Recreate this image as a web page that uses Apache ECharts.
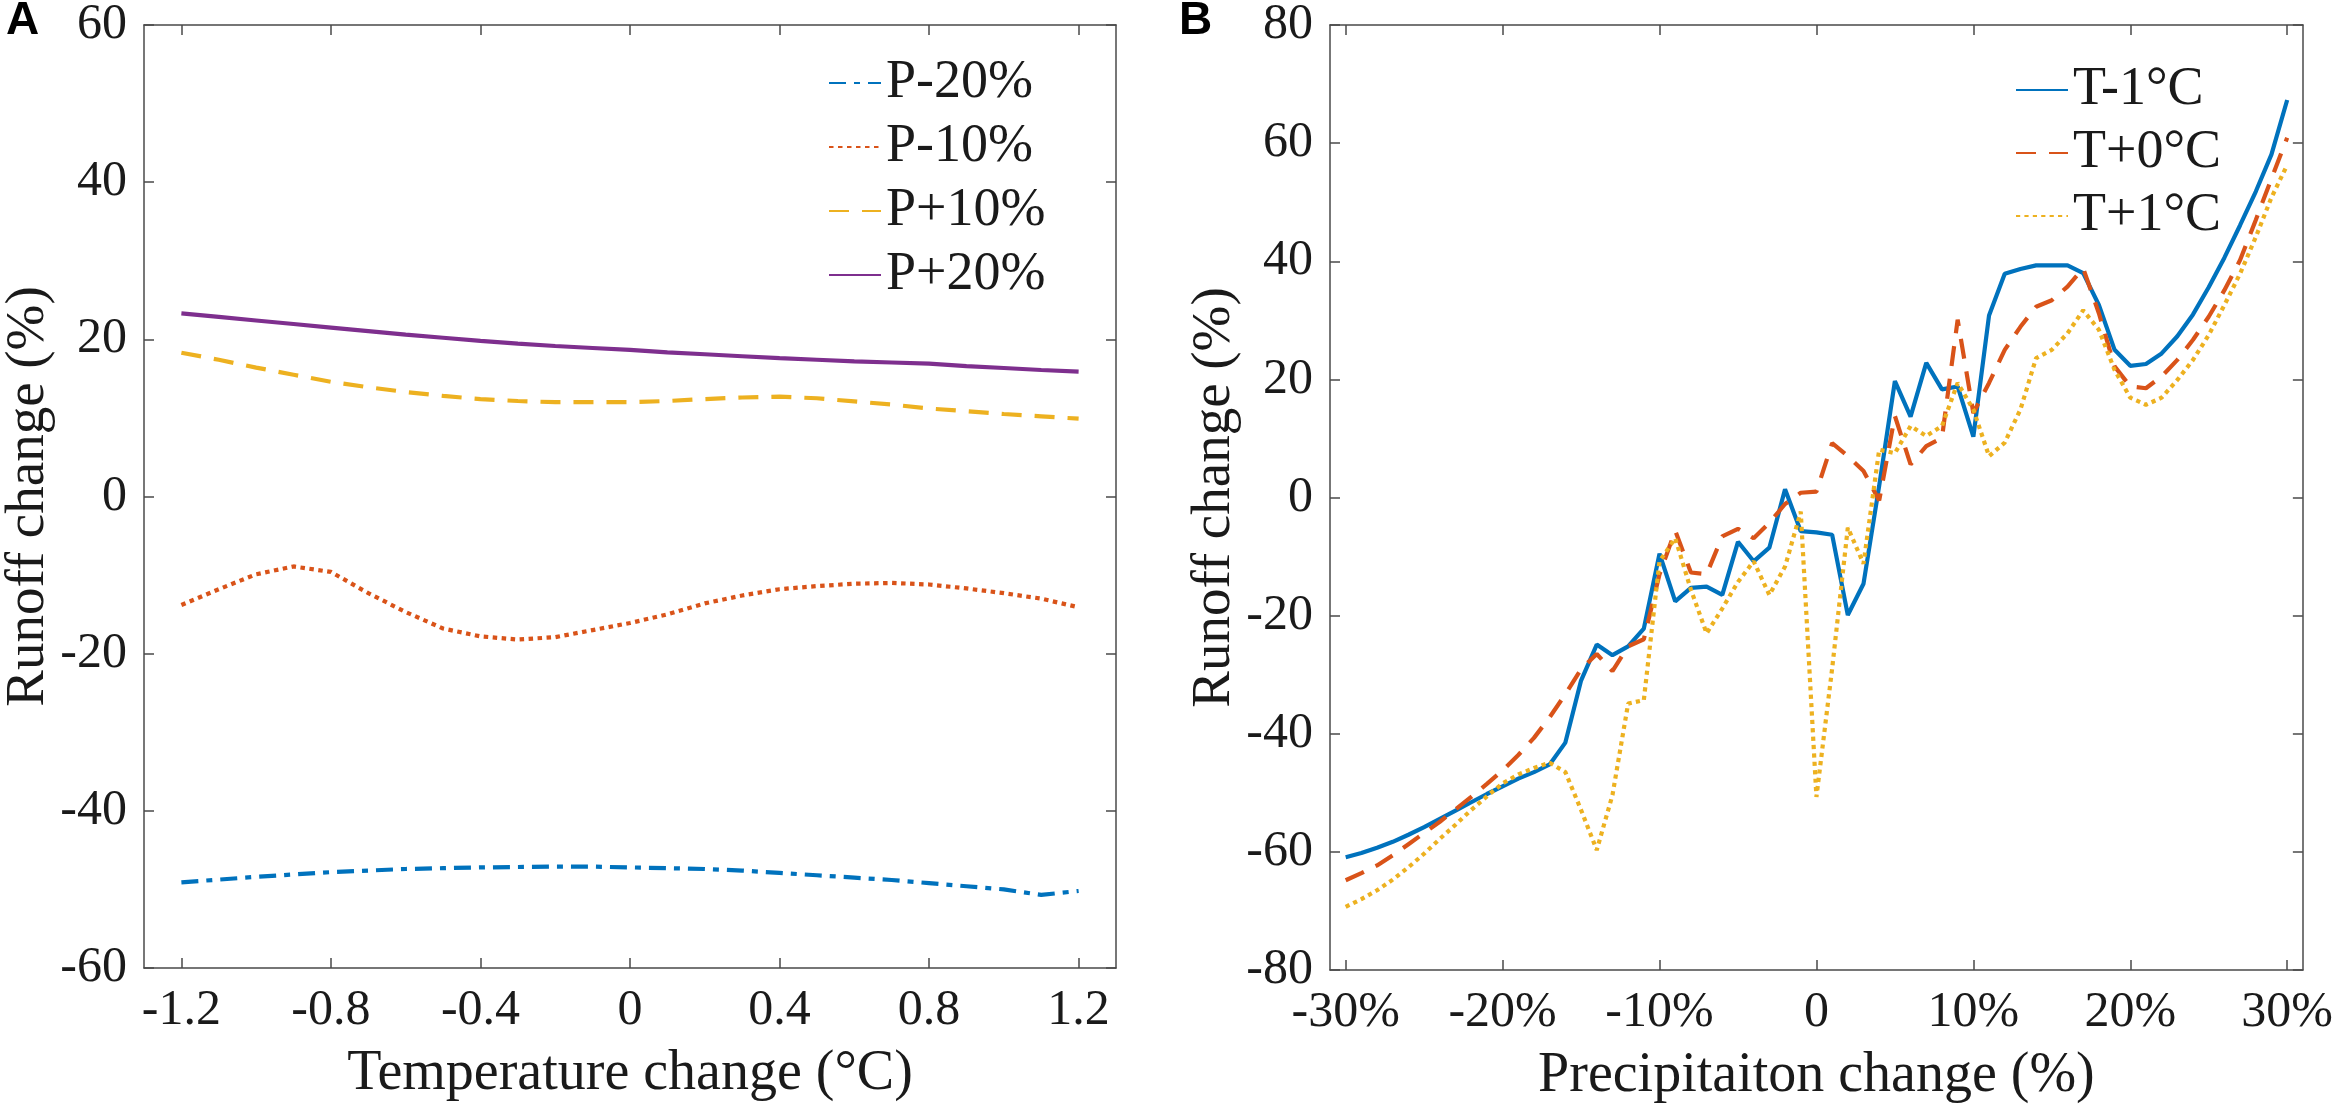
<!DOCTYPE html>
<html><head><meta charset="utf-8">
<script src="https://cdn.jsdelivr.net/npm/echarts@6/dist/echarts.min.js"></script>
<style>html,body{margin:0;padding:0;background:#fff}#c{width:2336px;height:1111px}</style>
</head><body><div id="c"></div>
<script>
// ---------- Panel A data ----------
const tempX = [-1.2,-1.1,-1.0,-0.9,-0.8,-0.7,-0.6,-0.5,-0.4,-0.3,-0.2,-0.1,0,0.1,0.2,0.3,0.4,0.5,0.6,0.7,0.8,0.9,1.0,1.1,1.2];
const pMinus20 = [-49.1,-48.75,-48.4,-48.1,-47.8,-47.6,-47.4,-47.3,-47.2,-47.15,-47.1,-47.1,-47.2,-47.3,-47.4,-47.6,-47.9,-48.2,-48.5,-48.8,-49.2,-49.6,-50.0,-50.7,-50.2];
const pMinus10 = [-13.8,-11.8,-9.9,-8.9,-9.6,-12.3,-14.7,-16.8,-17.8,-18.2,-17.9,-17.0,-16.1,-15.0,-13.6,-12.6,-11.8,-11.4,-11.1,-11.0,-11.2,-11.7,-12.3,-13.0,-14.1];
const pPlus10 = [18.3,17.4,16.4,15.5,14.6,13.9,13.3,12.8,12.4,12.15,12.0,12.0,12.0,12.15,12.4,12.6,12.7,12.5,12.1,11.7,11.2,10.85,10.5,10.2,9.9];
const pPlus20 = [23.3,22.85,22.4,21.95,21.5,21.05,20.6,20.2,19.8,19.45,19.15,18.9,18.65,18.35,18.1,17.85,17.6,17.4,17.2,17.05,16.9,16.6,16.35,16.1,15.9];
const seriesNamesA = ['P-20%','P-10%','P+10%','P+20%'];
const tempTicks = [-1.2,-0.8,-0.4,0,0.4,0.8,1.2];
const tempTickLabels = ['-1.2','-0.8','-0.4','0','0.4','0.8','1.2'];

// ---------- Panel B data ----------
const precipX = [-30,-29,-28,-27,-26,-25,-24,-23,-22,-21,-20,-19,-18,-17,-16,-15,-14,-13,-12,-11,-10,-9,-8,-7,-6,-5,-4,-3,-2,-1,0,1,2,3,4,5,6,7,8,9,10,11,12,13,14,15,16,17,18,19,20,21,22,23,24,25,26,27,28,29,30];
const tMinus1 = [-60.9,-60.2,-59.3,-58.3,-57.1,-55.8,-54.4,-53.0,-51.6,-50.2,-48.9,-47.6,-46.5,-45.2,-41.5,-31.0,-24.9,-26.7,-25.2,-22.2,-9.5,-17.6,-15.3,-15.1,-16.5,-7.5,-10.8,-8.5,1.4,-5.7,-5.9,-6.3,-19.9,-14.6,2.0,19.7,13.7,22.8,18.3,18.8,10.3,30.8,37.9,38.7,39.3,39.3,39.3,38.0,32.6,25.0,22.3,22.6,24.4,27.3,31.0,35.6,40.6,46.1,51.8,58.1,67.3];
const tPlus0 = [-64.8,-63.6,-62.3,-60.6,-58.7,-56.8,-54.9,-52.8,-50.7,-48.5,-46.2,-43.6,-40.7,-37.2,-33.3,-29.1,-26.5,-29.4,-25.2,-24.0,-13.0,-5.6,-12.7,-13.0,-6.6,-5.3,-6.9,-4.3,-1.1,0.8,1.0,9.2,7.0,4.5,-0.5,13.8,5.6,8.7,10.1,30.1,14.3,19.4,25.0,28.9,32.3,33.4,35.7,38.8,31.2,22.2,18.8,18.5,20.5,23.3,26.7,30.6,35.1,40.2,47.0,54.0,60.9];
const tPlus1 = [-69.3,-68.0,-66.5,-64.7,-62.6,-60.3,-57.8,-55.4,-52.9,-50.6,-48.4,-46.9,-45.8,-44.9,-46.5,-52.9,-59.7,-50.4,-34.9,-34.3,-10.8,-6.9,-15.6,-23.0,-18.8,-14.3,-10.8,-16.5,-11.7,-2.4,-50.7,-29.0,-5.1,-11.2,8.1,7.5,12.1,10.4,12.1,19.4,14.9,7.0,9.3,14.9,23.6,25.0,27.8,31.7,28.4,21.6,16.9,15.7,16.9,19.9,23.3,27.5,32.6,37.9,44.1,50.8,56.3];
const seriesNamesB = ['T-1°C','T+0°C','T+1°C'];
const precipTicks = [-30,-20,-10,0,10,20,30];
const precipTickLabels = ['-30%','-20%','-10%','0','10%','20%','30%'];

const yTicksA = {min:-60, max:60, interval:20};
const yTicksB = {min:-80, max:80, interval:20};

// ---------- styling ----------
const FONT = '"Liberation Serif","Times New Roman",serif';
const AX = '#4a4a4a';
const TXT = '#1a1a1a';
const C = {blue:'#0072BD', orange:'#D95319', yellow:'#EDB120', purple:'#7E2F8E'};
const LW = 4.2;

function zip(xs, ys){ return xs.map((x,i)=>[x, ys[i]]); }
function labelMap(ticks, labels){ const m = {}; ticks.forEach((t,i)=>{ m[t.toFixed(4)] = labels[i]; }); return v => { const s = m[Number(v).toFixed(4)]; return s === undefined ? '' : '{t|' + s + '}'; }; }
function plainLabel(v){ return '{t|' + v + '}'; }

const tickFont = {fontSize:50, fontFamily:FONT, fontWeight:'normal', color:TXT};
const tickRich = {t: {fontSize:50, fontFamily:FONT, fontWeight:'normal', color:TXT}};

function xAx(grid, min, max, ticks, labels, name, pos){
  const bottom = pos === 'bottom';
  return {
    gridIndex: grid, type:'value', min, max, position: pos,
    axisLine:{show:true, onZero:false, lineStyle:{color:AX, width:1.5}},
    axisTick:{show:true, inside:true, length:10, customValues: ticks, lineStyle:{color:AX, width:1.5}},
    axisLabel: bottom ? Object.assign({show:true, customValues: ticks, formatter: labelMap(ticks, labels), rich: tickRich, margin:18}, tickFont) : {show:false},
    splitLine:{show:false},
    name: bottom ? name : '', nameLocation:'middle', nameGap:78,
    nameTextStyle:{fontSize:56, fontFamily:FONT, color:TXT}
  };
}
function yAx(grid, t, name, pos){
  const left = pos === 'left';
  return {
    gridIndex: grid, type:'value', min:t.min, max:t.max, interval:t.interval, position: pos,
    axisLine:{show:true, onZero:false, lineStyle:{color:AX, width:1.5}},
    axisTick:{show:true, inside:true, length:10, lineStyle:{color:AX, width:1.5}},
    axisLabel: left ? Object.assign({show:true, margin:17, formatter: plainLabel, rich: tickRich}, tickFont) : {show:false},
    splitLine:{show:false},
    name: left ? name : '', nameLocation:'middle', nameGap:88, nameRotate:90,
    nameTextStyle:{fontSize:55, fontFamily:FONT, color:TXT}
  };
}
function line(name, xs, ys, xi, color, dash){
  return {name, type:'line', xAxisIndex:xi, yAxisIndex:xi, data: zip(xs, ys), symbol:'none', showSymbol:false,
    lineStyle:{color, width:LW, type:dash, cap:'butt'}, itemStyle:{color}, animation:false, clip:false};
}
const legendBase = {orient:'vertical', padding:0, itemWidth:52, itemHeight:14, selectedMode:false,
  itemStyle:{opacity:0, borderWidth:0},
  textStyle:{fontSize:54, fontFamily:FONT, color:TXT, lineHeight:52}};

const chart = echarts.init(document.getElementById('c'), null, {renderer:'canvas'});
chart.setOption({
  backgroundColor:'#ffffff',
  animation:false,
  textStyle:{fontFamily:FONT},
  grid:[
    {left:142, top:21, width:974, height:947},
    {left:1330, top:19, width:973, height:951}
  ],
  xAxis:[
    xAx(0, -1.3, 1.3, tempTicks, tempTickLabels, 'Temperature change (°C)', 'bottom'),
    xAx(0, -1.3, 1.3, tempTicks, tempTickLabels, '', 'top'),
    xAx(1, -31, 31, precipTicks, precipTickLabels, 'Precipitaiton change (%)', 'bottom'),
    xAx(1, -31, 31, precipTicks, precipTickLabels, '', 'top')
  ],
  yAxis:[
    yAx(0, yTicksA, 'Runoff change (%)', 'left'),
    yAx(0, yTicksA, '', 'right'),
    yAx(1, yTicksB, 'Runoff change (%)', 'left'),
    yAx(1, yTicksB, '', 'right')
  ],
  legend:[
    Object.assign({data: seriesNamesA, left:828, top:56, itemGap:10}, legendBase),
    Object.assign({data: seriesNamesB, left:2015, top:63, itemGap:9}, legendBase)
  ],
  graphic:[
    {type:'text', left:6, top:-2, style:{text:'A', font:'bold 46px "Liberation Sans", Arial, sans-serif', fill:'#000'}},
    {type:'text', left:1179, top:-2, style:{text:'B', font:'bold 46px "Liberation Sans", Arial, sans-serif', fill:'#000'}}
  ],
  series:[
    line(seriesNamesA[0], tempX, pMinus20, 0, C.blue, [17,8,6,8]),
    line(seriesNamesA[1], tempX, pMinus10, 0, C.orange, [4.5,4.5]),
    line(seriesNamesA[2], tempX, pPlus10, 0, C.yellow, [20,13]),
    line(seriesNamesA[3], tempX, pPlus20, 0, C.purple, 'solid'),
    line(seriesNamesB[0], precipX, tMinus1, 2, C.blue, 'solid'),
    line(seriesNamesB[1], precipX, tPlus0, 2, C.orange, [20,13]),
    line(seriesNamesB[2], precipX, tPlus1, 2, C.yellow, [4.2,4.2])
  ]
});
</script>
</body></html>
